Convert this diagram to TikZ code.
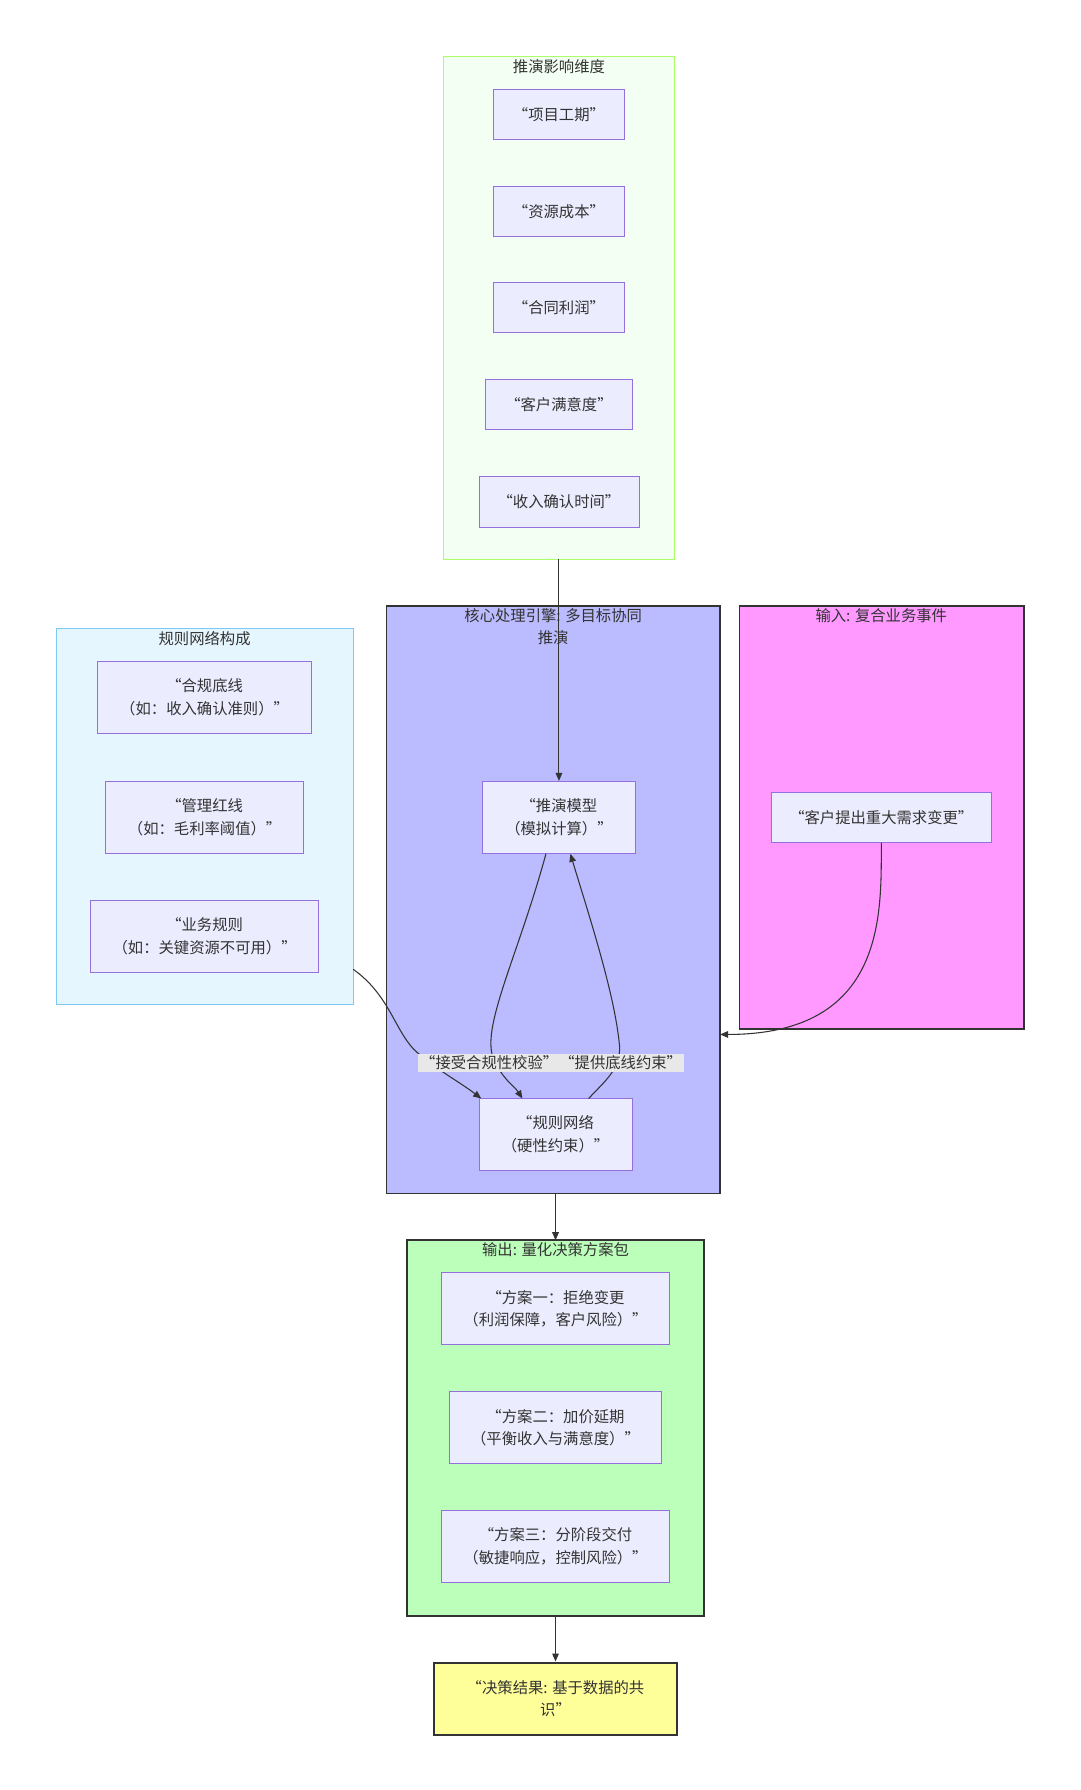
\documentclass[tikz,border=0pt]{standalone}
\usepackage{fontspec}
\setmainfont{Noto Sans CJK SC}
\usetikzlibrary{arrows.meta}
\definecolor{nfill}{HTML}{ECECFF}
\definecolor{nline}{HTML}{9370DB}
\definecolor{tx}{HTML}{333333}
\begin{document}
\begin{tikzpicture}[x=0.857pt,y=-0.857pt,font=\fontsize{11.5}{17}\selectfont,text=tx,
 box/.style={draw=nline,fill=nfill,line width=0.6pt,align=center},
 clus/.style={line width=1.2pt,draw=tx},
 ttl/.style={anchor=north,align=center,inner sep=0pt},
 lbl/.style={fill=black!9,inner sep=1.5pt},
 arr/.style={draw=tx,line width=0.8pt,-{Triangle[length=6pt,width=5pt]}}]
\useasboundingbox (0,0) rectangle (945,1566);
% clusters
\draw[fill=green!5!white,draw=green!40!lime!60!white,line width=0.6pt] (388,49) rectangle (590,489);
\node[ttl] (t1) at (489,52) {推演影响维度};
\draw[clus,fill={rgb,255:red,187;green,187;blue,255}] (338,530) rectangle (630,1044);
\node[ttl] (t2) at (484,532) {核心处理引擎: 多目标协同\\推演};
\draw[clus,fill={rgb,255:red,255;green,153;blue,255}] (647,530) rectangle (896,900);
\node[ttl] (t3) at (771,532) {输入: 复合业务事件};
\draw[fill={rgb,255:red,230;green,246;blue,255},draw={rgb,255:red,125;green,200;blue,245},line width=0.6pt] (49,550) rectangle (309,879);
\node[ttl] (t4) at (179,552) {规则网络构成};
\draw[clus,fill={rgb,255:red,187;green,255;blue,187}] (356,1085) rectangle (616,1414);
\node[ttl] (t5) at (486,1087) {输出: 量化决策方案包};
\coordinate (c1b) at (489,489);
\coordinate (c4r) at (309,848);
\coordinate (coreR) at (630,905);
\coordinate (coreB) at (486,1044);
\coordinate (outT) at (486,1085);
\coordinate (outB) at (486,1414);
% nodes
\node[box,minimum width=114*0.857pt,minimum height=44*0.857pt] (a1) at (489,100) {“项目工期”};
\node[box,minimum width=114*0.857pt,minimum height=44*0.857pt] (a2) at (489,185) {“资源成本”};
\node[box,minimum width=114*0.857pt,minimum height=44*0.857pt] (a3) at (489,269) {“合同利润”};
\node[box,minimum width=128*0.857pt,minimum height=44*0.857pt] (a4) at (489,354) {“客户满意度”};
\node[box,minimum width=140*0.857pt,minimum height=44*0.857pt] (a5) at (489,439) {“收入确认时间”};
\node[box,minimum width=134*0.857pt,minimum height=63*0.857pt] (m) at (489,715) {“推演模型\\（模拟计算）”};
\node[box,minimum width=134*0.857pt,minimum height=63*0.857pt] (r) at (486,992) {“规则网络\\（硬性约束）”};
\node[box,minimum width=193*0.857pt,minimum height=44*0.857pt] (in) at (771,715) {“客户提出重大需求变更”};
\node[box,minimum width=187*0.857pt,minimum height=63*0.857pt] (b1) at (179,610) {“合规底线\\（如：收入确认准则）”};
\node[box,minimum width=173*0.857pt,minimum height=63*0.857pt] (b2) at (179,715) {“管理红线\\（如：毛利率阈值）”};
\node[box,minimum width=199*0.857pt,minimum height=63*0.857pt] (b3) at (179,819) {“业务规则\\（如：关键资源不可用）”};
\node[box,minimum width=199*0.857pt,minimum height=63*0.857pt] (o1) at (486,1145) {“方案一：拒绝变更\\（利润保障，客户风险）”};
\node[box,minimum width=186*0.857pt,minimum height=63*0.857pt] (o2) at (486,1249) {“方案二：加价延期\\（平衡收入与满意度）”};
\node[box,minimum width=199*0.857pt,minimum height=63*0.857pt] (o3) at (486,1353) {“方案三：分阶段交付\\（敏捷响应，控制风险）”};
\node[box,draw=tx,line width=1.6pt,fill={rgb,255:red,255;green,255;blue,153},minimum width=212*0.857pt,minimum height=63*0.857pt] (d) at (486,1486) {“决策结果: 基于数据的共\\识”};
% edges
\draw[arr] (c1b) -- (m.north);
\draw[arr] (m.south west)++(56,0) .. controls (455,830) and (425,890) .. (430,920) -- (431,925) .. controls (440,945) and (450,950) .. (457,961);
\draw[arr] (515,961) .. controls (530,945) and (543,935) .. (542,915) .. controls (538,870) and (515,800) .. (499,747);
\draw[arr] (c4r) .. controls (340,870) and (345,900) .. (362,918) .. controls (380,935) and (400,945) .. (421,961);
\node[lbl] (l1) at (428,930) {“接受合规性校验”};
\node[lbl] (l2) at (543,930) {“提供底线约束”};
\draw[arr] (in.south) .. controls (771,800) and (775,905) .. (coreR);
\draw[arr] (coreB) -- (outT);
\draw[arr] (outB) -- (d.north);
\end{tikzpicture}
\end{document}
